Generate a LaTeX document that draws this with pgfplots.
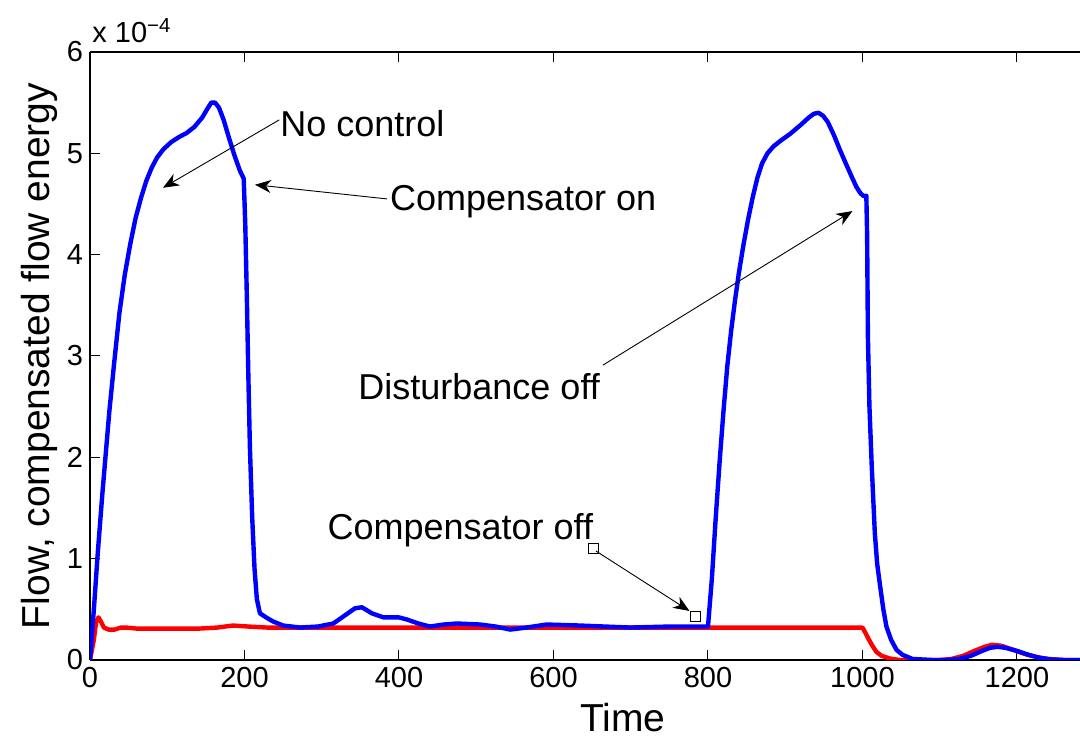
\documentclass[border=0pt]{standalone}
\usepackage{fontspec}
\setmainfont{Liberation Sans}
\usepackage{pgfplots}
\pgfplotsset{compat=1.18}
\usetikzlibrary{arrows.meta}

\begin{document}
\begin{tikzpicture}
\begin{axis}[
  width=495pt, height=304pt, scale only axis,
  xmin=0, xmax=1281.6, ymin=0, ymax=6,
  axis x line=box, axis y line=left,
  axis line style={-, line width=0.75pt},
  tick align=inside,
  major tick length=5pt,
  xtick={0,200,...,1200}, ytick={0,1,...,6},
  tick style={black, line width=0.5pt},
  tick label style={font=\fontsize{14.5}{16}\selectfont},
  /pgf/number format/assume math mode=true,
  /pgf/number format/1000 sep={},
  xlabel={Time}, ylabel={Flow, compensated flow energy},
  xlabel style={font=\fontsize{19.5}{22}\selectfont, at={(axis description cs:0.538,-0.1184)}, anchor=base, inner sep=0pt},
  ylabel style={font=\fontsize{19.5}{22}\selectfont, at={(axis description cs:-0.0404,0.5)}, anchor=base, inner sep=0pt, rotate=0},
  clip=true,
]
\addplot[red, line width=2.2pt, line join=round] coordinates {
(0,0) (5,0.2) (8,0.38) (11,0.42) (14,0.38) (18,0.32) (24,0.30) (32,0.30) (40,0.32) (47,0.32)
(60,0.31) (78,0.31) (110,0.31) (142,0.31) (165,0.32) (185,0.34) (205,0.33) (229,0.32) (300,0.32)
(1000,0.32) (1003,0.28) (1007,0.22) (1012,0.15) (1018,0.08) (1025,0.04) (1035,0.015) (1048,0)
(1100,0) (1115,0.01) (1130,0.04) (1145,0.09) (1158,0.13) (1168,0.15) (1180,0.14) (1195,0.10)
(1210,0.06) (1225,0.03) (1240,0.01) (1260,0) (1285,0)
};
\addplot[blue, line width=2.2pt, line join=round] coordinates {
(0,0) (5,0.5) (10,1.05) (16,1.64) (20,2.0) (25,2.45) (31,2.91) (38,3.42) (45,3.8) (52,4.1)
(59,4.36) (66,4.56) (73,4.73) (80,4.86) (87,4.96) (95,5.04) (105,5.11) (115,5.16) (125,5.2) (135,5.26) (145,5.35)
(152,5.44) (157,5.5) (162,5.5) (167,5.45) (173,5.33) (180,5.15) (187,4.98) (194,4.83) (199,4.75)
(201,4.3) (203,3.6) (205,2.8) (207,2.1) (210,1.4) (213,0.9) (216,0.6) (220,0.46) (228,0.42)
(237,0.38) (250,0.34) (272,0.32) (295,0.33) (315,0.36) (330,0.44) (343,0.51) (352,0.52) (365,0.46)
(380,0.42) (400,0.42) (410,0.40) (425,0.36) (440,0.33) (458,0.35) (475,0.36) (505,0.35) (525,0.33)
(544,0.30) (565,0.32) (591,0.35) (634,0.34) (699,0.32) (750,0.33) (800,0.33)
(805,0.8) (810,1.4) (815,1.95) (820,2.45) (825,2.9) (830,3.25) (835,3.55) (840,3.82) (846,4.1)
(852,4.35) (858,4.57) (864,4.76) (870,4.9) (877,5.0) (885,5.07) (895,5.13) (906,5.19) (920,5.28)
(930,5.35) (937,5.39) (943,5.40) (949,5.37) (955,5.31) (963,5.18) (971,5.03) (979,4.89) (986,4.77) (992,4.67)
(997,4.61) (1001,4.58) (1005,4.58) (1006,4.2) (1007,3.2) (1009,2.5) (1012,1.91) (1016,1.25)
(1019,0.95) (1023,0.72) (1027,0.5) (1031,0.33) (1037,0.2) (1044,0.10) (1052,0.05) (1065,0.01)
(1090,0) (1110,0) (1125,0.01) (1140,0.04) (1155,0.09) (1165,0.12) (1175,0.13) (1185,0.12)
(1200,0.09) (1215,0.05) (1230,0.02) (1245,0.005) (1260,0) (1285,0)
};
\addplot[only marks, mark=square, mark size=2.5pt, mark options={black, line width=0.5pt, fill=white}] coordinates {(652,1.096) (784,0.434)};

\draw[-{Stealth[length=8pt,width=6.5pt,inset=2.5pt]}, line width=0.45pt] (axis cs:245,5.33) -- (axis cs:94.5,4.66);
\draw[-{Stealth[length=8pt,width=6.5pt,inset=2.5pt]}, line width=0.45pt] (axis cs:384.5,4.55) -- (axis cs:213.6,4.69);
\draw[-{Stealth[length=8pt,width=6.5pt,inset=2.5pt]}, line width=0.45pt] (axis cs:664,2.91) -- (axis cs:987,4.43);
\draw[-{Stealth[length=8pt,width=6.5pt,inset=2.5pt]}, line width=0.45pt] (axis cs:655,1.075) -- (axis cs:776,0.484);

\node[anchor=base west, inner sep=0pt, font=\fontsize{18}{21}\selectfont] at (axis cs:246,5.163) {No control};
\node[anchor=base west, inner sep=0pt, font=\fontsize{18}{21}\selectfont] at (axis cs:388,4.44) {Compensator on};
\node[anchor=base west, inner sep=0pt, font=\fontsize{18}{21}\selectfont] at (axis cs:347,2.567) {Disturbance off};
\node[anchor=base west, inner sep=0pt, font=\fontsize{18}{21}\selectfont] at (axis cs:307,1.185) {Compensator off};
\end{axis}
\node[anchor=base west, inner sep=0pt, font=\fontsize{14.5}{16}\selectfont] at ([shift={(1pt,4.5pt)}]current axis.north west) {x 10\textsuperscript{−4}};
\pgfresetboundingbox
\path ([shift={(-45pt,-41.5pt)}]current axis.south west) rectangle ([shift={(0pt,26pt)}]current axis.north east);
\end{tikzpicture}
\end{document}
